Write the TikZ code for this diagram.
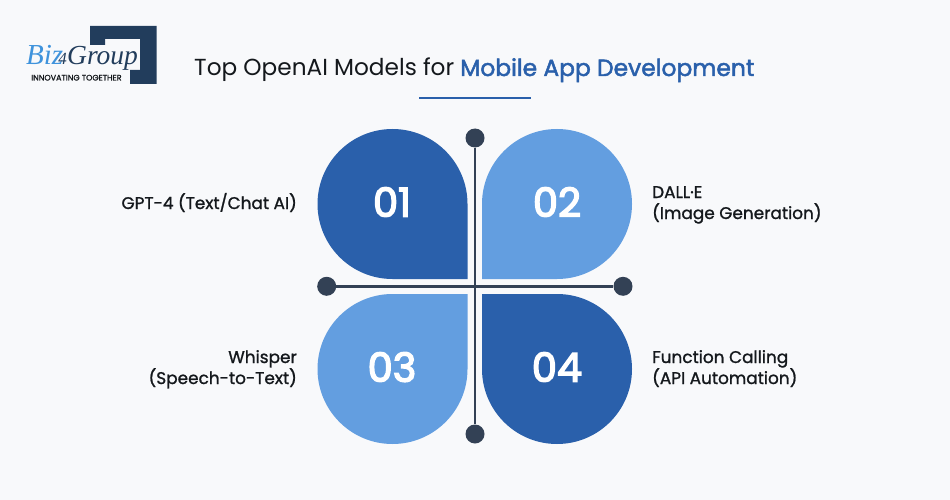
\documentclass[tikz,border=0pt]{standalone}
\usepackage{fontspec}
\setmainfont{Poppins}
\newfontfamily\logoserif{Liberation Serif}
\newfontfamily\med{Poppins}[FakeBold=1.2]
\newfontfamily\semi{Poppins}[FakeBold=2]
\newfontfamily\numf{Poppins}[FakeBold=3.5]
\definecolor{bgc}{HTML}{F8F9FB}
\definecolor{darkb}{HTML}{2A60AB}
\definecolor{lightb}{HTML}{639EE0}
\definecolor{slatec}{HTML}{334155}
\definecolor{logon}{HTML}{223D5C}
\definecolor{logob}{HTML}{3F93DC}
\definecolor{titlec}{HTML}{14181C}
\tikzset{
 petaldark/.style={fill=darkb,draw=none},
 petallight/.style={fill=lightb,draw=none},
 dotn/.style={circle,fill=slatec,minimum size=19pt,inner sep=0pt,draw=none},
 axisline/.style={draw=slatec,line width=2.6pt},
 numt/.style={text=white,font=\numf\fontsize{40}{40}\selectfont,inner sep=0pt,anchor=base},
 labelt/.style={text=titlec,font=\med\fontsize{16.9}{21}\selectfont,inner sep=0pt,anchor=base},
}
\begin{document}
\begin{tikzpicture}[x=1pt,y=-1pt]
\useasboundingbox (0,0) rectangle (950,500);
\fill[bgc] (0,0) rectangle (950,500);
% logo
\fill[logon] (90,26) -- (156.5,26) -- (156.5,84) -- (130,84) -- (130,70) -- (140,70) -- (140,39) -- (105,39) -- (105,45) -- (90,45) -- cycle;
\node[inner sep=0pt,anchor=base west,text=logob,font=\logoserif\itshape\fontsize{29}{30}\selectfont] (lg1) at (26,65) {Biz};
\node[inner sep=0pt,anchor=base west,text=logon,font=\logoserif\itshape\fontsize{27.5}{30}\selectfont] (lg2) at (67,65) {Group};
\node[inner sep=0pt,anchor=base,text=logon,font=\logoserif\itshape\fontsize{17}{20}\selectfont] (lg3) at (62.5,65) {4};
\node[inner sep=0pt,anchor=base west,text=titlec,font=\med\fontsize{8}{9}\selectfont] (lg4) at (31,80.5) {INNOVATING TOGETHER};
% title
\node[inner sep=0pt,anchor=base west,text=titlec,font=\fontsize{23.2}{26}\selectfont] (title) at (194,76) {Top OpenAI Models for};
\node[inner sep=0pt,anchor=base west,text=darkb,font=\semi\fontsize{23.4}{26}\selectfont] (title2) at (460,76) {Mobile App Development};
\coordinate (ula) at (419,98); \coordinate (ulb) at (531,98);
\draw[draw=darkb,line width=1.6pt] (ula) -- (ulb);
% petals
\fill[petaldark] (467.5,279) -- (392.5,279) arc[start angle=90,end angle=360,radius=75] -- cycle;
\fill[petallight] (482,279) -- (557,279) arc[start angle=90,end angle=-180,radius=75] -- cycle;
\fill[petallight] (467.5,294) -- (392.5,294) arc[start angle=-90,end angle=-360,radius=75] -- cycle;
\fill[petaldark] (482,294) -- (557,294) arc[start angle=-90,end angle=180,radius=75] -- cycle;
% axes
\node[dotn] (top) at (475,138) {};
\node[dotn] (bot) at (475,434) {};
\node[dotn] (lft) at (326.7,286.3) {};
\node[dotn] (rgt) at (623,286.3) {};
\draw[axisline] (top) -- (bot);
\draw[axisline] (lft) -- (rgt);
% numbers
\node[numt] (n1) at (392,216.7) {01};
\node[numt] (n2) at (557,216.7) {02};
\node[numt] (n3) at (392,381.7) {03};
\node[numt] (n4) at (557,381.7) {04};
% labels
\node[labelt,anchor=base east] (l1) at (297,209) {GPT-4 (Text/Chat AI)};
\node[labelt,anchor=base west] (l2a) at (652,198) {DALL·E};
\node[labelt,anchor=base west] (l2b) at (652,219) {(Image Generation)};
\node[labelt,anchor=base east] (l3a) at (297,363) {Whisper};
\node[labelt,anchor=base east] (l3b) at (297,384) {(Speech-to-Text)};
\node[labelt,anchor=base west] (l4a) at (652,363) {Function Calling};
\node[labelt,anchor=base west] (l4b) at (652,384) {(API Automation)};
\end{tikzpicture}
\end{document}
